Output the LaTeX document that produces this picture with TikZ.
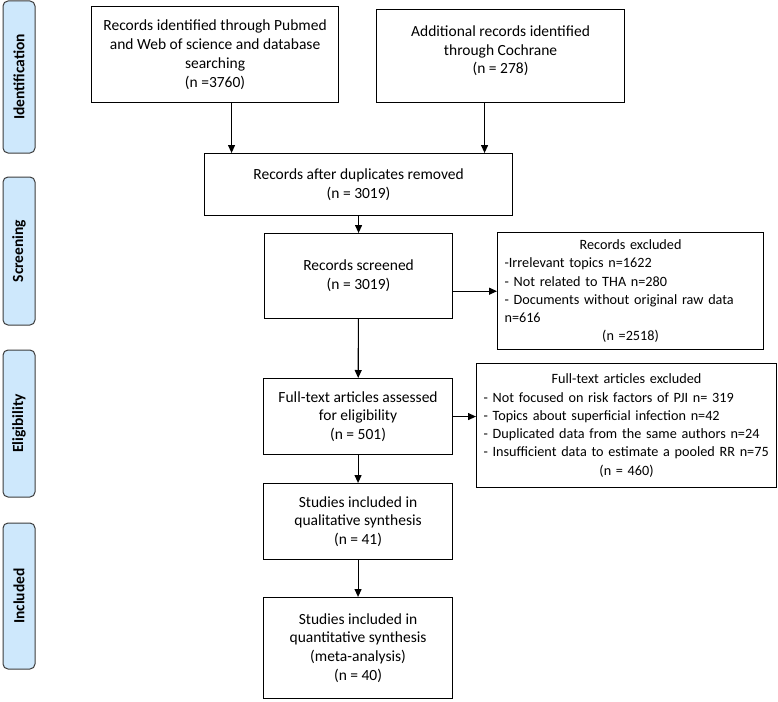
\documentclass[tikz,border=0pt]{standalone}
\usepackage{fontspec}
\setmainfont{Carlito}
\usetikzlibrary{arrows.meta}
\definecolor{stagefill}{RGB}{206,232,252}
\definecolor{stageline}{RGB}{60,60,60}

\begin{document}
\begin{tikzpicture}[x=1pt, y=-1pt, font=\fontsize{15.5}{18.8}\selectfont,
  box/.style = {draw, line width=1.1pt, align=center, anchor=north west, inner sep=3pt},
  listbox/.style = {box, inner sep=7pt, font=\fontsize{14.2}{18.3}\selectfont},
  stage/.style = {draw=stageline, fill=stagefill, line width=1pt, rounded corners=5pt, rotate=90,
    minimum height=32pt, font=\fontsize{15.5}{18}\selectfont\bfseries},
  arr/.style = {line width=1.1pt, -{Triangle[length=8pt, width=7pt]}}]
\useasboundingbox (0,0) rectangle (778,701);

% stages
\node[stage, minimum width=152pt] (st1) at (19,77) {Identification};
\node[stage, minimum width=148pt] (st2) at (19,251) {Screening};
\node[stage, minimum width=147pt] (st3) at (19,423.5) {Eligibility};
\node[stage, minimum width=146pt] (st4) at (19,596) {Included};

% flow boxes
\node[box, minimum width=247pt, minimum height=96pt] (pub) at (91,6)
  {Records identified through Pubmed\\and Web of science and database\\searching\\(n =3760)};
\node[box, minimum width=248pt, minimum height=93pt] (coch) at (376,9)
  {Additional records identified\\through Cochrane\\(n = 278)\\[-6pt]};
\node[box, minimum width=308pt, minimum height=62pt] (dup) at (204,153)
  {Records after duplicates removed\\(n = 3019)};
\node[box, minimum width=188pt, minimum height=85pt] (scr) at (264,233)
  {Records screened\\(n = 3019)};
\node[listbox, minimum width=266pt, minimum height=116pt, text width=252pt] (exc1) at (497,232)
  {\centering Records excluded\par\raggedright
   -Irrelevant topics n=1622\\
   - Not related to THA n=280\\
   - Documents without original raw data\\
   n=616\par\centering (n =2518)\par};
\node[box, minimum width=189pt, minimum height=76pt] (full) at (263,378)
  {Full-text articles assessed\\for eligibility\\(n = 501)};
\node[listbox, minimum width=300pt, minimum height=124pt, text width=286pt] (exc2) at (476,363)
  {\centering Full-text articles excluded\par\raggedright
   - Not focused on risk factors of PJI n= 319\\
   - Topics about superficial infection n=42\\
   - Duplicated data from the same authors n=24\\
   - Insufficient data to estimate a pooled RR n=75\par\centering (n = 460)\par};
\node[box, minimum width=189pt, minimum height=76pt] (qual) at (263,483)
  {Studies included in\\qualitative synthesis\\(n = 41)};
\node[box, minimum width=189pt, minimum height=101pt] (quant) at (263,597)
  {Studies included in\\quantitative synthesis\\(meta-analysis)\\(n = 40)};

% arrows
\draw[arr] ([xshift=16.5pt]pub.south) -- ([xshift=16.5pt]pub.south |- dup.north);
\draw[arr] ([xshift=-16pt]coch.south) -- ([xshift=-16pt]coch.south |- dup.north);
\draw[arr] (dup) -- (scr);
\draw[arr] (scr.east |- exc1.west) -- (exc1.west);
\draw[arr] (scr) -- (full);
\draw[arr] (full.east) -- (full.east -| exc2.west);
\draw[arr] (full) -- (qual);
\draw[arr] (qual) -- (quant);
\end{tikzpicture}
\end{document}
